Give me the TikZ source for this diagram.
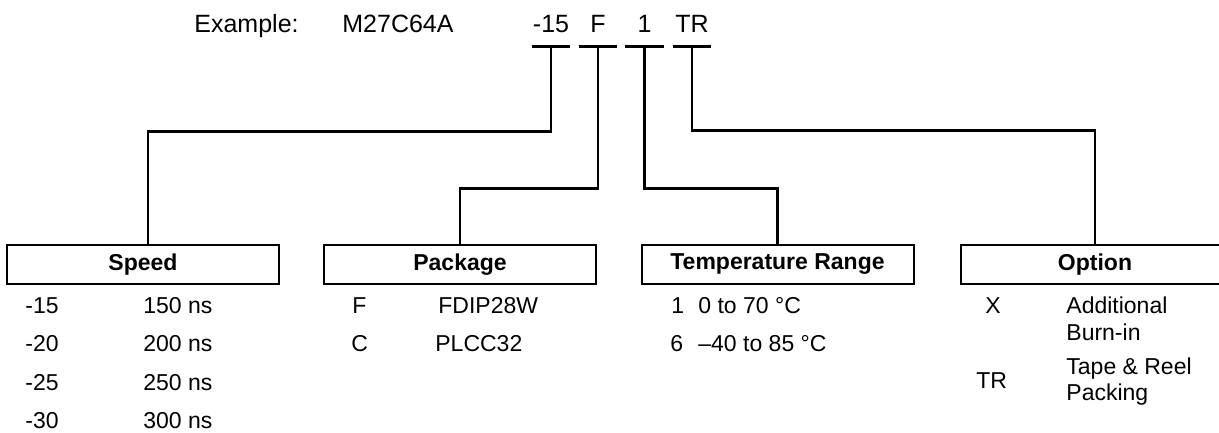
\documentclass[tikz,border=0pt]{standalone}
\usepackage{fontspec}
\setmainfont{Liberation Sans}
\usetikzlibrary{calc, positioning}

\tikzset{
  wire/.style={line width=1.1pt},
  field/.style={draw, line width=1pt, minimum width=136pt, minimum height=19.5pt,
    inner sep=0pt, font=\fontsize{11.5}{13}\selectfont\bfseries},
  code/.style={anchor=base, inner sep=0pt, minimum width=19pt, text depth=6.5pt,
    font=\fontsize{12.5}{14}\selectfont},
  entry/.style={anchor=base west, inner sep=0pt, font=\fontsize{11.5}{13}\selectfont},
}

\begin{document}
\begin{tikzpicture}[x=0.5pt, y=-0.5pt]
  \useasboundingbox (0,0) rectangle (1219,433);

  % Example line
  \node[entry, font=\fontsize{12.5}{14}\selectfont] (example) at (194,33) {Example:};
  \node[entry, font=\fontsize{12.5}{14}\selectfont] (part) at (342,33) {M27C64A};
  \node[code] (c15) at (551,33) {-15};
  \node[code] (cF) at (598,33) {F};
  \node[code] (c1) at (644.5,33) {1};
  \node[code] (cTR) at (692,33) {TR};
  \foreach \c in {c15, cF, c1, cTR}
    \draw[line width=1.4pt] (\c.south west) -- (\c.south east);

  % Blocks
  \node[field] (speed) at (143,264.5) {Speed};
  \node[field] (package) at (460,264.5) {Package};
  \node[field] (temp) at (777.5,264.5) {Temperature Range};
  \node[field, minimum width=134pt] (option) at (1095,264.5) {Option};

  % Connectors
  \draw[wire] (c15.south) -- ++(0,85) -| ([xshift=2.5pt]speed.north);
  \draw[wire] (cF.south) -- ++(0,142) -| (package.north);
  \draw[wire] (c1.south) -- ++(0,142) -| (temp.north);
  \draw[wire] (cTR.south) -- ++(0,84) -| (option.north);

  % Speed
  \node[entry] (s1) at (25,313) {-15};   \node[entry] (s1v) at (143,313) {150 ns};
  \node[entry] (s2) at (25,351.5) {-20}; \node[entry] (s2v) at (143,351.5) {200 ns};
  \node[entry] (s3) at (25,390) {-25};   \node[entry] (s3v) at (143,390) {250 ns};
  \node[entry] (s4) at (25,428.5) {-30}; \node[entry] (s4v) at (143,428.5) {300 ns};

  % Package
  \node[entry] (p1) at (352,313) {F};   \node[entry] (p1v) at (438,313) {FDIP28W};
  \node[entry] (p2) at (351,351.5) {C}; \node[entry] (p2v) at (435,351.5) {PLCC32};

  % Temperature range
  \node[entry] (t1) at (671,313) {1};   \node[entry] (t1v) at (698,313) {0 to 70 °C};
  \node[entry] (t2) at (670,351.5) {6}; \node[entry] (t2v) at (698,351.5) {–40 to 85 °C};

  % Option
  \node[entry] (o1) at (985,313) {X};
  \node[entry] (o1v) at (1066,313) {Additional};
  \node[entry] (o1w) at (1066,340) {Burn-in};
  \node[entry] (o2) at (976,388) {TR};
  \node[entry] (o2v) at (1066,374) {Tape \& Reel};
  \node[entry] (o2w) at (1066,400) {Packing};

\end{tikzpicture}
\end{document}
